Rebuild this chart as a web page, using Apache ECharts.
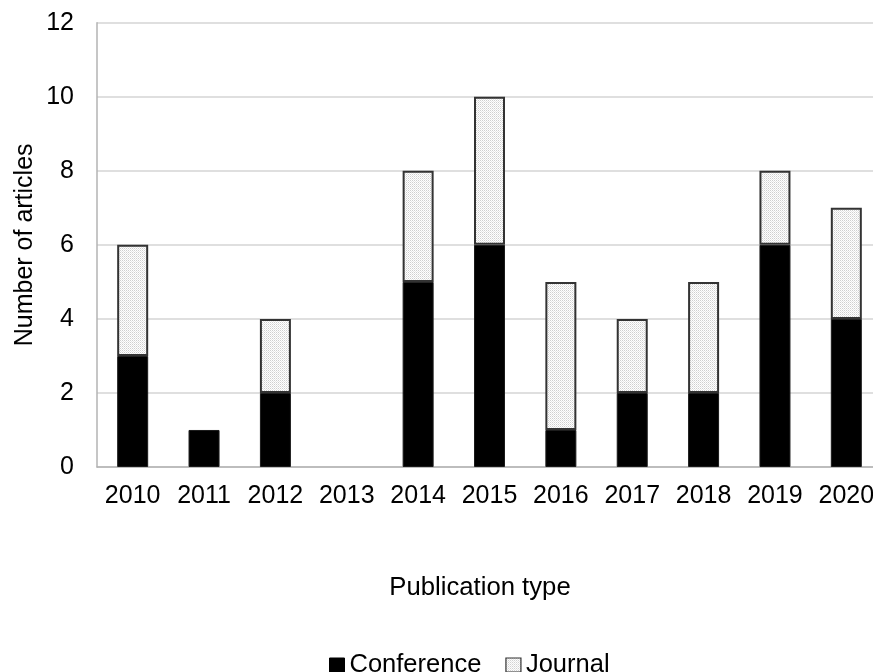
<!DOCTYPE html>
<html><head><meta charset="utf-8">
<script src="https://cdn.jsdelivr.net/npm/echarts@6/dist/echarts.min.js"></script>
<style>html,body{margin:0;padding:0;background:#fff}#c{width:873px;height:672px}</style>
</head><body><div id="c"></div>
<script>
const years = ['2010','2011','2012','2013','2014','2015','2016','2017','2018','2019','2020'];
const conference = [3,1,2,0,5,6,1,2,2,6,4];
const journal = [3,0,2,0,3,4,4,2,3,2,3];
const yTicks = {min:0, max:12, interval:2};

function makePattern(){
  const c = document.createElement('canvas');
  c.width = 4; c.height = 4;
  const g = c.getContext('2d');
  g.fillStyle = '#ffffff'; g.fillRect(0,0,4,4);
  g.fillStyle = '#cfcfcf';
  g.fillRect(0,0,1,1); g.fillRect(2,2,1,1); g.fillRect(2,0,1,1); g.fillRect(0,2,1,1);
  g.fillStyle = '#e6e6e6';
  g.fillRect(1,1,1,1); g.fillRect(3,3,1,1); g.fillRect(3,1,1,1); g.fillRect(1,3,1,1);
  return {image: c, repeat: 'repeat'};
}
const pattern = makePattern();
const font = 'Liberation Sans, Arial, Helvetica, sans-serif';
const noZero = arr => arr.map(v => v === 0 ? null : v);

const chart = echarts.init(document.getElementById('c'), null, {renderer:'canvas'});
chart.setOption({
  animation: false,
  textStyle: {fontFamily: font},
  title: {
    text: 'Publication type',
    left: 475, top: 570,
    textAlign: 'center',
    textStyle: {fontSize: 25.7, fontWeight: 'normal', color: '#000', fontFamily: font}
  },
  legend: {
    left: 324, top: 647,
    itemWidth: 15, itemHeight: 14, itemGap: 24,
    icon: 'rect',
    textStyle: {fontSize: 25.5, color: '#000', fontFamily: font},
    data: [
      {name: 'Conference', itemStyle: {color: '#000', borderColor: '#000', borderWidth: 1}},
      {name: 'Journal', itemStyle: {color: pattern, borderColor: '#333', borderWidth: 1.2}}
    ]
  },
  grid: {left: 97, top: 22.7, width: 785, height: 444.3, containLabel: false, outerBoundsMode: 'none'},
  xAxis: {
    type: 'category', data: years,
    axisLine: {show: true, lineStyle: {color: '#b3b3b3', width: 1.5}},
    axisTick: {show: false},
    axisLabel: {fontSize: 25, color: '#000', margin: 17, interval: 0}
  },
  yAxis: {
    type: 'value', min: yTicks.min, max: yTicks.max, interval: yTicks.interval,
    name: 'Number of articles', nameLocation: 'middle', nameGap: 59, nameRotate: 90,
    nameMoveOverlap: false,
    nameTextStyle: {fontSize: 25, color: '#000'},
    axisLine: {show: true, lineStyle: {color: '#b3b3b3', width: 1.5}},
    axisTick: {show: false},
    axisLabel: {fontSize: 25, color: '#000', margin: 23},
    splitLine: {show: true, lineStyle: {color: '#d4d4d4', width: 1.5}}
  },
  series: [
    {name: 'Conference', type: 'bar', stack: 's', data: noZero(conference), barWidth: 31,
     itemStyle: {color: '#000', borderColor: '#1a1a1a', borderWidth: 1}},
    {name: 'Journal', type: 'bar', stack: 's', data: noZero(journal), barWidth: 31,
     itemStyle: {color: pattern, borderColor: '#333', borderWidth: 2}}
  ]
});
</script></body></html>
